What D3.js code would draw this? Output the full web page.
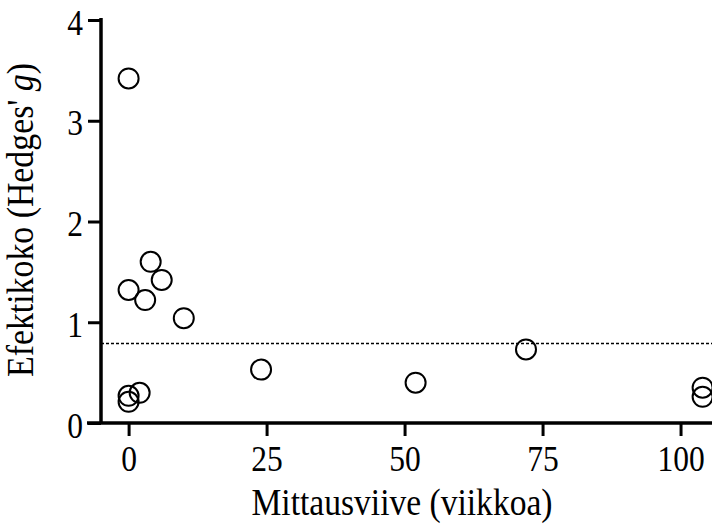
<!DOCTYPE html>
<html>
<head>
<meta charset="utf-8">
<script src="https://cdn.jsdelivr.net/npm/d3@7"></script>
<style>
  body { margin: 0; background: #fff; }
</style>
</head>
<body>
<svg id="svg_chart" width="712" height="526"></svg>
<script>
// weeks between intervention and measurement / effect size
const delay_weeks = [0, 4, 6, 0, 3, 10, 24, 2, 0, 0, 52, 72, 104, 104];
const hedges_g = [3.42, 1.60, 1.42, 1.32, 1.22, 1.04, 0.53, 0.30, 0.27, 0.21, 0.40, 0.73, 0.35, 0.26];
const reference_g = 0.79;
const x_ticks = [0, 25, 50, 75, 100];
const y_ticks = [0, 1, 2, 3, 4];

const serif = '\'Liberation Serif\', \'Times New Roman\', serif';
const svg_chart = d3.select('svg#svg_chart');
const font_size = 35;

const x = d3.scaleLinear().domain([-5, 105.7]).range([101, 712]);
const y = d3.scaleLinear().domain([0, 4]).range([423, 20]);

// dotted reference line
svg_chart.append('line')
  .attr('x1', x(-5))
  .attr('x2', 712)
  .attr('y1', y(reference_g))
  .attr('y2', y(reference_g))
  .attr('stroke', '#000')
  .attr('stroke-width', 1.5)
  .attr('stroke-dasharray', '3,2');

// y axis
const y_axis = svg_chart.append('g')
  .attr('transform', `translate(${x(-5)},0)`)
  .call(d3.axisLeft(y).tickValues(y_ticks).tickSize(13).tickPadding(5).tickFormat(d3.format('d')));

// x axis
const x_axis = svg_chart.append('g')
  .attr('transform', `translate(0,${y(0)})`)
  .call(d3.axisBottom(x).tickValues(x_ticks).tickSize(13).tickPadding(0).tickFormat(d3.format('d')));

[x_axis, y_axis].forEach((g) => {
  g.attr('font-family', serif).attr('font-size', font_size);
  g.select('.domain').attr('stroke', '#000').attr('stroke-width', 3.5);
  g.selectAll('.tick line').attr('stroke', '#000').attr('stroke-width', 3);
  g.selectAll('.tick text')
    .style('font-family', serif)
    .style('font-size', `${font_size}px`)
    .attr('fill', '#000')
    .attr('transform', 'scale(0.9,1)');
});
x_axis.select('.domain').attr('d', `M${x(-5) - 14},0H712`);
y_axis.select('.domain').attr('d', `M0,${y(4) - 2}V${y(0)}`);
x_axis.selectAll('.tick text').attr('y', 48).attr('dy', null);
y_axis.selectAll('.tick text').attr('x', -20).attr('dy', '0.4em');

// points
svg_chart.append('g')
  .selectAll('circle')
  .data(delay_weeks.map((d, i) => ({ wk: d, g: hedges_g[i] })))
  .enter()
  .append('circle')
  .attr('cx', d => x(d.wk))
  .attr('cy', d => y(d.g))
  .attr('r', 10)
  .attr('fill', 'none')
  .attr('stroke', '#000')
  .attr('stroke-width', 2);

// axis titles
svg_chart.append('text')
  .attr('x', 402)
  .attr('y', 515)
  .attr('text-anchor', 'middle')
  .attr('fill', '#000')
  .attr('textLength', 301)
  .attr('lengthAdjust', 'spacingAndGlyphs')
  .style('font-family', serif)
  .style('font-size', '37px')
  .text('Mittausviive (viikkoa)');

const y_title = svg_chart.append('text')
  .attr('transform', 'translate(33,220) rotate(-90)')
  .attr('text-anchor', 'middle')
  .attr('fill', '#000')
  .attr('textLength', 314)
  .attr('lengthAdjust', 'spacingAndGlyphs')
  .style('font-family', serif)
  .style('font-size', '37px');
y_title.append('tspan').text('Efektikoko (Hedges\' ');
y_title.append('tspan').style('font-style', 'italic').text('g');
y_title.append('tspan').text(')');
</script>
</body>
</html>
